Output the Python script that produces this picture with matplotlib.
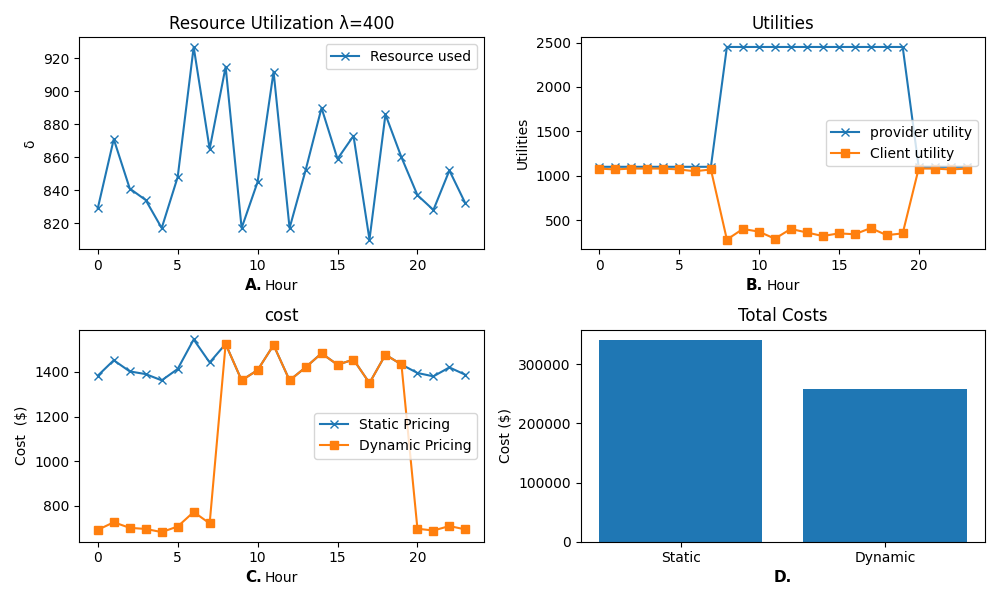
import matplotlib
matplotlib.use("Agg")
import matplotlib.pyplot as plt

hours = list(range(24))
resource = [829, 871, 841, 834, 817, 848, 927, 865, 915, 817, 845, 912,
            817, 852, 890, 859, 873, 810, 886, 860, 837, 828, 852, 832]
provider = [1100] * 8 + [2450] * 12 + [1100] * 4
client = [1080, 1070, 1080, 1080, 1080, 1070, 1050, 1070,
          280, 400, 370, 290, 400, 360, 320, 350, 340, 410, 330, 350,
          1080, 1080, 1070, 1080]
static = [1383, 1452, 1402, 1390, 1362, 1413, 1545, 1442, 1525, 1362, 1408, 1520,
          1362, 1420, 1483, 1432, 1455, 1350, 1477, 1433, 1395, 1380, 1420, 1387]
dynamic = [693, 727, 702, 697, 683, 708, 773, 722, 1525, 1362, 1408, 1520,
           1362, 1420, 1483, 1432, 1455, 1350, 1477, 1433, 698, 690, 710, 695]
bar_names = ["Static", "Dynamic"]
totals = [341000, 258000]

fig, axes = plt.subplots(2, 2, figsize=(10, 6))

ax = axes[0, 0]
ax.plot(hours, resource, "x-", label="Resource used")
ax.set_title("Resource Utilization λ=400")
ax.set_ylabel("δ")
ax.set_xlabel("Hour")
ax.legend()

ax = axes[0, 1]
ax.plot(hours, provider, "x-", label="provider utility")
ax.plot(hours, client, "s-", label="Client utility")
ax.set_title("Utilities")
ax.set_ylabel("Utilities")
ax.set_xlabel("Hour")
ax.legend(loc="center right")

ax = axes[1, 0]
ax.plot(hours, static, "x-", label="Static Pricing")
ax.plot(hours, dynamic, "s-", label="Dynamic Pricing")
ax.set_title("cost")
ax.set_ylabel("Cost  ($)")
ax.set_xlabel("Hour")
ax.legend(loc="center right")

ax = axes[1, 1]
ax.bar(bar_names, totals)
ax.set_title("Total Costs")
ax.set_ylabel("Cost ($)")

fig.tight_layout()
for ax, lab, dx in ((axes[0, 0], "A.", -0.07), (axes[0, 1], "B.", -0.07),
                    (axes[1, 0], "C.", -0.07), (axes[1, 1], "D.", 0.0)):
    ax.text(0.5 + dx, -0.135, lab, transform=ax.transAxes, ha="center", va="top",
            fontsize=11, fontweight="bold")
fig.savefig("out.png", dpi=100)
